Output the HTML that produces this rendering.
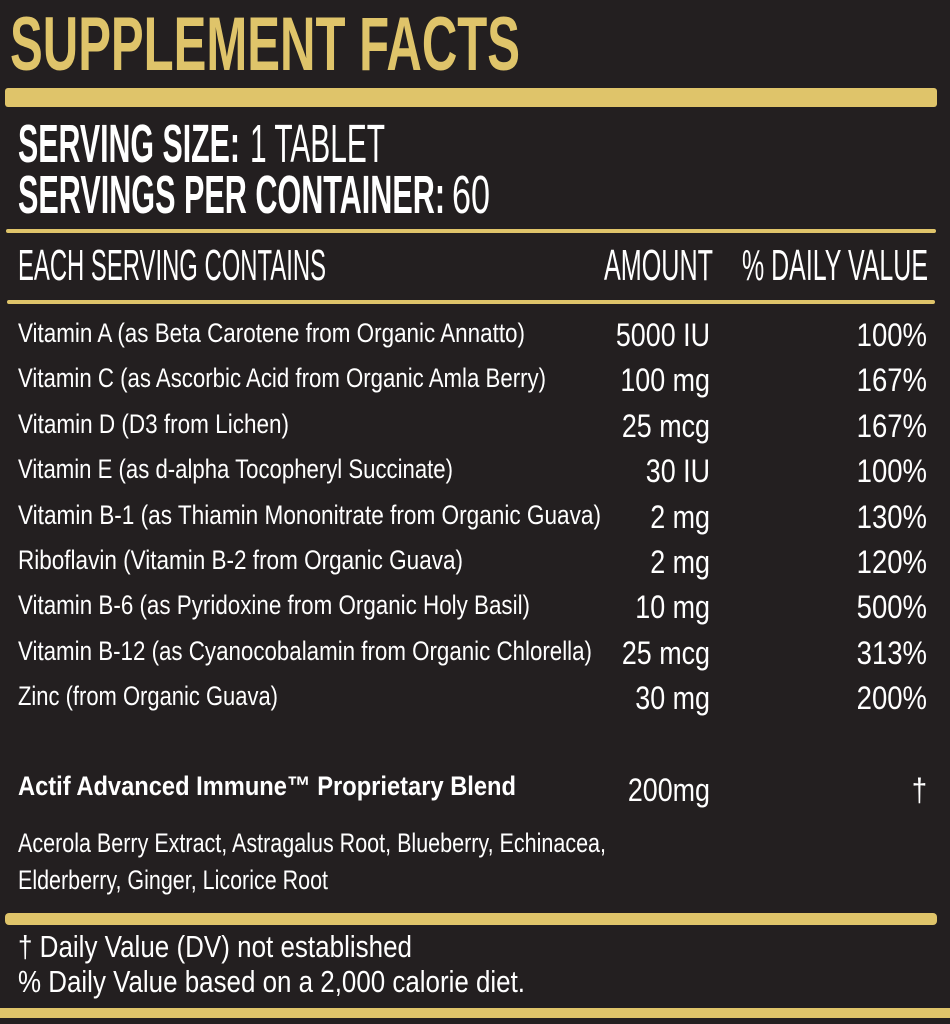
<!DOCTYPE html>
<html><head><style>
html,body{margin:0;padding:0;background:#231f20;}
svg{display:block}
text{font-family:"Liberation Sans",sans-serif;fill:#fff}
</style></head><body>
<svg width="950" height="1024" viewBox="0 0 950 1024" xmlns="http://www.w3.org/2000/svg">
<rect width="950" height="1024" fill="#231f20"/>
<text x="10" y="70" font-size="76" font-weight="bold" style="fill:#dfc46a" textLength="510" lengthAdjust="spacingAndGlyphs">SUPPLEMENT FACTS</text>
<rect x="5" y="88" width="932" height="19" rx="3" fill="#dfc46a"/>
<text x="18" y="162" font-size="54" font-weight="bold" textLength="222" lengthAdjust="spacingAndGlyphs">SERVING SIZE:</text>
<text x="250" y="162" font-size="54" textLength="135" lengthAdjust="spacingAndGlyphs">1 TABLET</text>
<text x="18" y="213" font-size="54" font-weight="bold" textLength="427" lengthAdjust="spacingAndGlyphs">SERVINGS PER CONTAINER:</text>
<text x="452" y="213" font-size="54" textLength="38" lengthAdjust="spacingAndGlyphs">60</text>
<rect x="6" y="229" width="930" height="4" rx="2" fill="#dfc46a"/>
<text x="18" y="280" font-size="44" textLength="308" lengthAdjust="spacingAndGlyphs">EACH SERVING CONTAINS</text>
<text x="604" y="280" font-size="44" textLength="109" lengthAdjust="spacingAndGlyphs">AMOUNT</text>
<text x="742" y="280" font-size="44" textLength="186" lengthAdjust="spacingAndGlyphs">% DAILY VALUE</text>
<rect x="7" y="300" width="928" height="4" rx="2" fill="#dfc46a"/>
<g font-size="27">
<text x="18" y="342" textLength="507" lengthAdjust="spacingAndGlyphs">Vitamin A (as Beta Carotene from Organic Annatto)</text>
<text x="18" y="387" textLength="528" lengthAdjust="spacingAndGlyphs">Vitamin C (as Ascorbic Acid from Organic Amla Berry)</text>
<text x="18" y="433" textLength="271" lengthAdjust="spacingAndGlyphs">Vitamin D (D3 from Lichen)</text>
<text x="18" y="478" textLength="435" lengthAdjust="spacingAndGlyphs">Vitamin E (as d-alpha Tocopheryl Succinate)</text>
<text x="18" y="524" textLength="583" lengthAdjust="spacingAndGlyphs">Vitamin B-1 (as Thiamin Mononitrate from Organic Guava)</text>
<text x="18" y="569" textLength="445" lengthAdjust="spacingAndGlyphs">Riboflavin (Vitamin B-2 from Organic Guava)</text>
<text x="18" y="614" textLength="512" lengthAdjust="spacingAndGlyphs">Vitamin B-6 (as Pyridoxine from Organic Holy Basil)</text>
<text x="18" y="660" textLength="574" lengthAdjust="spacingAndGlyphs">Vitamin B-12 (as Cyanocobalamin from Organic Chlorella)</text>
<text x="18" y="705" textLength="260" lengthAdjust="spacingAndGlyphs">Zinc (from Organic Guava)</text>
</g>
<g font-size="32" text-anchor="end" transform="translate(710,0) scale(0.84,1)">
<text x="0" y="346">5000 IU</text>
<text x="0" y="391">100 mg</text>
<text x="0" y="437">25 mcg</text>
<text x="0" y="482">30 IU</text>
<text x="0" y="528">2 mg</text>
<text x="0" y="573">2 mg</text>
<text x="0" y="618">10 mg</text>
<text x="0" y="664">25 mcg</text>
<text x="0" y="709">30 mg</text>
<text x="0" y="801">200mg</text>
</g>
<g font-size="32" text-anchor="end" transform="translate(927,0) scale(0.86,1)">
<text x="0" y="346">100%</text>
<text x="0" y="391">167%</text>
<text x="0" y="437">167%</text>
<text x="0" y="482">100%</text>
<text x="0" y="528">130%</text>
<text x="0" y="573">120%</text>
<text x="0" y="618">500%</text>
<text x="0" y="664">313%</text>
<text x="0" y="709">200%</text>
<text x="0" y="801">†</text>
</g>
<text x="18" y="795" font-size="27" font-weight="bold" textLength="498" lengthAdjust="spacingAndGlyphs">Actif Advanced Immune™ Proprietary Blend</text>
<text x="18" y="852" font-size="27" textLength="588" lengthAdjust="spacingAndGlyphs">Acerola Berry Extract, Astragalus Root, Blueberry, Echinacea,</text>
<text x="18" y="889" font-size="27" textLength="310" lengthAdjust="spacingAndGlyphs">Elderberry, Ginger, Licorice Root</text>
<rect x="5" y="913" width="932" height="12" rx="4" fill="#dfc46a"/>
<text x="18" y="957" font-size="31" textLength="394" lengthAdjust="spacingAndGlyphs">† Daily Value (DV) not established</text>
<text x="18" y="992" font-size="31" textLength="507" lengthAdjust="spacingAndGlyphs">% Daily Value based on a 2,000 calorie diet.</text>
<rect x="0" y="1008" width="950" height="10" fill="#dfc46a"/>
</svg>
</body></html>
